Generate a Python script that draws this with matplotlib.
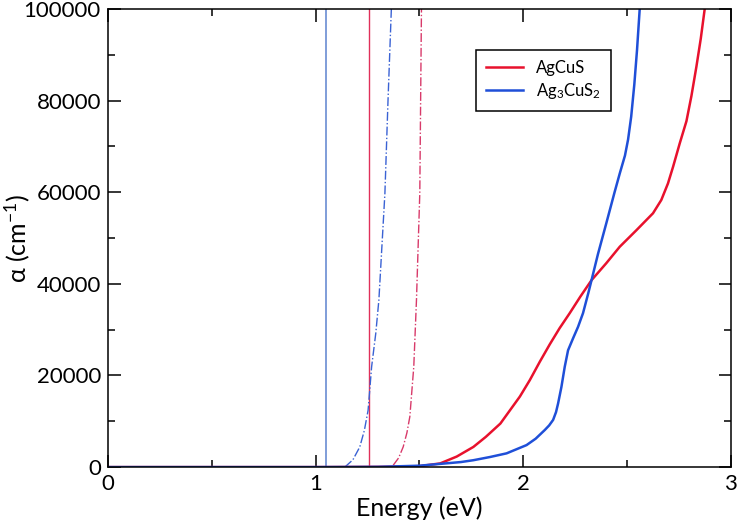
import matplotlib
matplotlib.use("Agg")
import matplotlib.pyplot as plt
from matplotlib.ticker import MultipleLocator

plt.rcParams["font.family"] = ["Lato", "DejaVu Sans"]
plt.rcParams["mathtext.fontset"] = "custom"
plt.rcParams["mathtext.rm"] = "Lato"
plt.rcParams["mathtext.default"] = "regular"

# AgCuS absorption (eV, cm^-1)
agcus_e = [0.0, 1.0, 1.3, 1.5, 1.6, 1.68, 1.76, 1.82, 1.89, 1.984, 2.032, 2.08, 2.128,
           2.175, 2.224, 2.275, 2.329, 2.40, 2.465, 2.545, 2.625, 2.665, 2.697, 2.722,
           2.754, 2.786, 2.81, 2.834, 2.855, 2.874]
agcus_a = [0, 0, 50, 200, 800, 2300, 4400, 6600, 9500, 15400, 19000, 23000, 26800,
           30300, 33600, 37200, 40800, 44500, 48100, 51700, 55400, 58300, 61900, 65600,
           70700, 75500, 81000, 87400, 93500, 100000]

# Ag3CuS2 absorption
ag3cus2_e = [0.0, 1.0, 1.3, 1.5, 1.6, 1.7, 1.76, 1.84, 1.92, 2.016, 2.06, 2.104, 2.125,
             2.144, 2.158, 2.168, 2.184, 2.2, 2.216, 2.24, 2.264, 2.288, 2.313, 2.329,
             2.36, 2.40, 2.44, 2.465, 2.49, 2.505, 2.52, 2.535, 2.548, 2.561]
ag3cus2_a = [0, 0, 50, 300, 700, 1100, 1500, 2200, 3000, 4800, 6200, 8100, 9100,
             10300, 12000, 13900, 17500, 21900, 25500, 28100, 30600, 33600, 37900, 40800,
             46500, 53200, 60000, 64100, 68000, 71500, 76500, 83500, 91000, 100000]

# dash-dot tails
tail_blue_e = [1.141, 1.18, 1.213, 1.235, 1.253, 1.27, 1.29, 1.305, 1.334, 1.349, 1.365]
tail_blue_a = [0, 1600, 4400, 8000, 12400, 21900, 29200, 36500, 59800, 80100, 100000]
tail_red_e = [1.374, 1.40, 1.422, 1.44, 1.454, 1.473, 1.486, 1.502, 1.51]
tail_red_a = [400, 2000, 4400, 7500, 11000, 21900, 36500, 59800, 100000]

gap_blue = 1.05
gap_red = 1.258

fig = plt.figure(figsize=(7.39, 5.26), dpi=100)
ax = fig.add_axes([0.146, 0.112, 0.843, 0.871])

ax.axvline(gap_blue, color="#7595d6", lw=1.3)
ax.axvline(gap_red, color="#e0305a", lw=1.0)
ax.plot(tail_blue_e, tail_blue_a, color="#3a62d4", lw=1.0, ls="-.")
ax.plot(tail_red_e, tail_red_a, color="#d83a6a", lw=1.0, ls="-.")
ax.plot(agcus_e, agcus_a, color="#e8112d", lw=1.8, label="AgCuS")
ax.plot(ag3cus2_e, ag3cus2_a, color="#1f4fd8", lw=1.8, label="Ag$_3$CuS$_2$")

ax.set_xlim(0, 3)
ax.set_ylim(0, 100000)
ax.xaxis.set_major_locator(MultipleLocator(1))
ax.xaxis.set_minor_locator(MultipleLocator(0.5))
ax.yaxis.set_major_locator(MultipleLocator(20000))
ax.yaxis.set_minor_locator(MultipleLocator(10000))
ax.tick_params(which="both", direction="in", top=True, right=True, width=1.1,
               labelsize=16, pad=5)
ax.tick_params(which="major", length=9)
ax.tick_params(which="minor", length=5)
for s in ax.spines.values():
    s.set_linewidth(1.1)

ax.set_xlabel("Energy (eV)", fontsize=18, labelpad=2)
ax.set_ylabel("α (cm$^{-1}$)", fontsize=18, math_fontfamily="dejavusans")
ax.yaxis.set_label_coords(-0.122, 0.5)

leg = ax.legend(loc="upper left", bbox_to_anchor=(0.578, 0.928), fontsize=12,
                fancybox=False, edgecolor="black", framealpha=1, handlelength=2.2,
                borderpad=0.6, labelspacing=0.3)
leg.get_frame().set_linewidth(1.1)

fig.savefig("out.png", dpi=100)
